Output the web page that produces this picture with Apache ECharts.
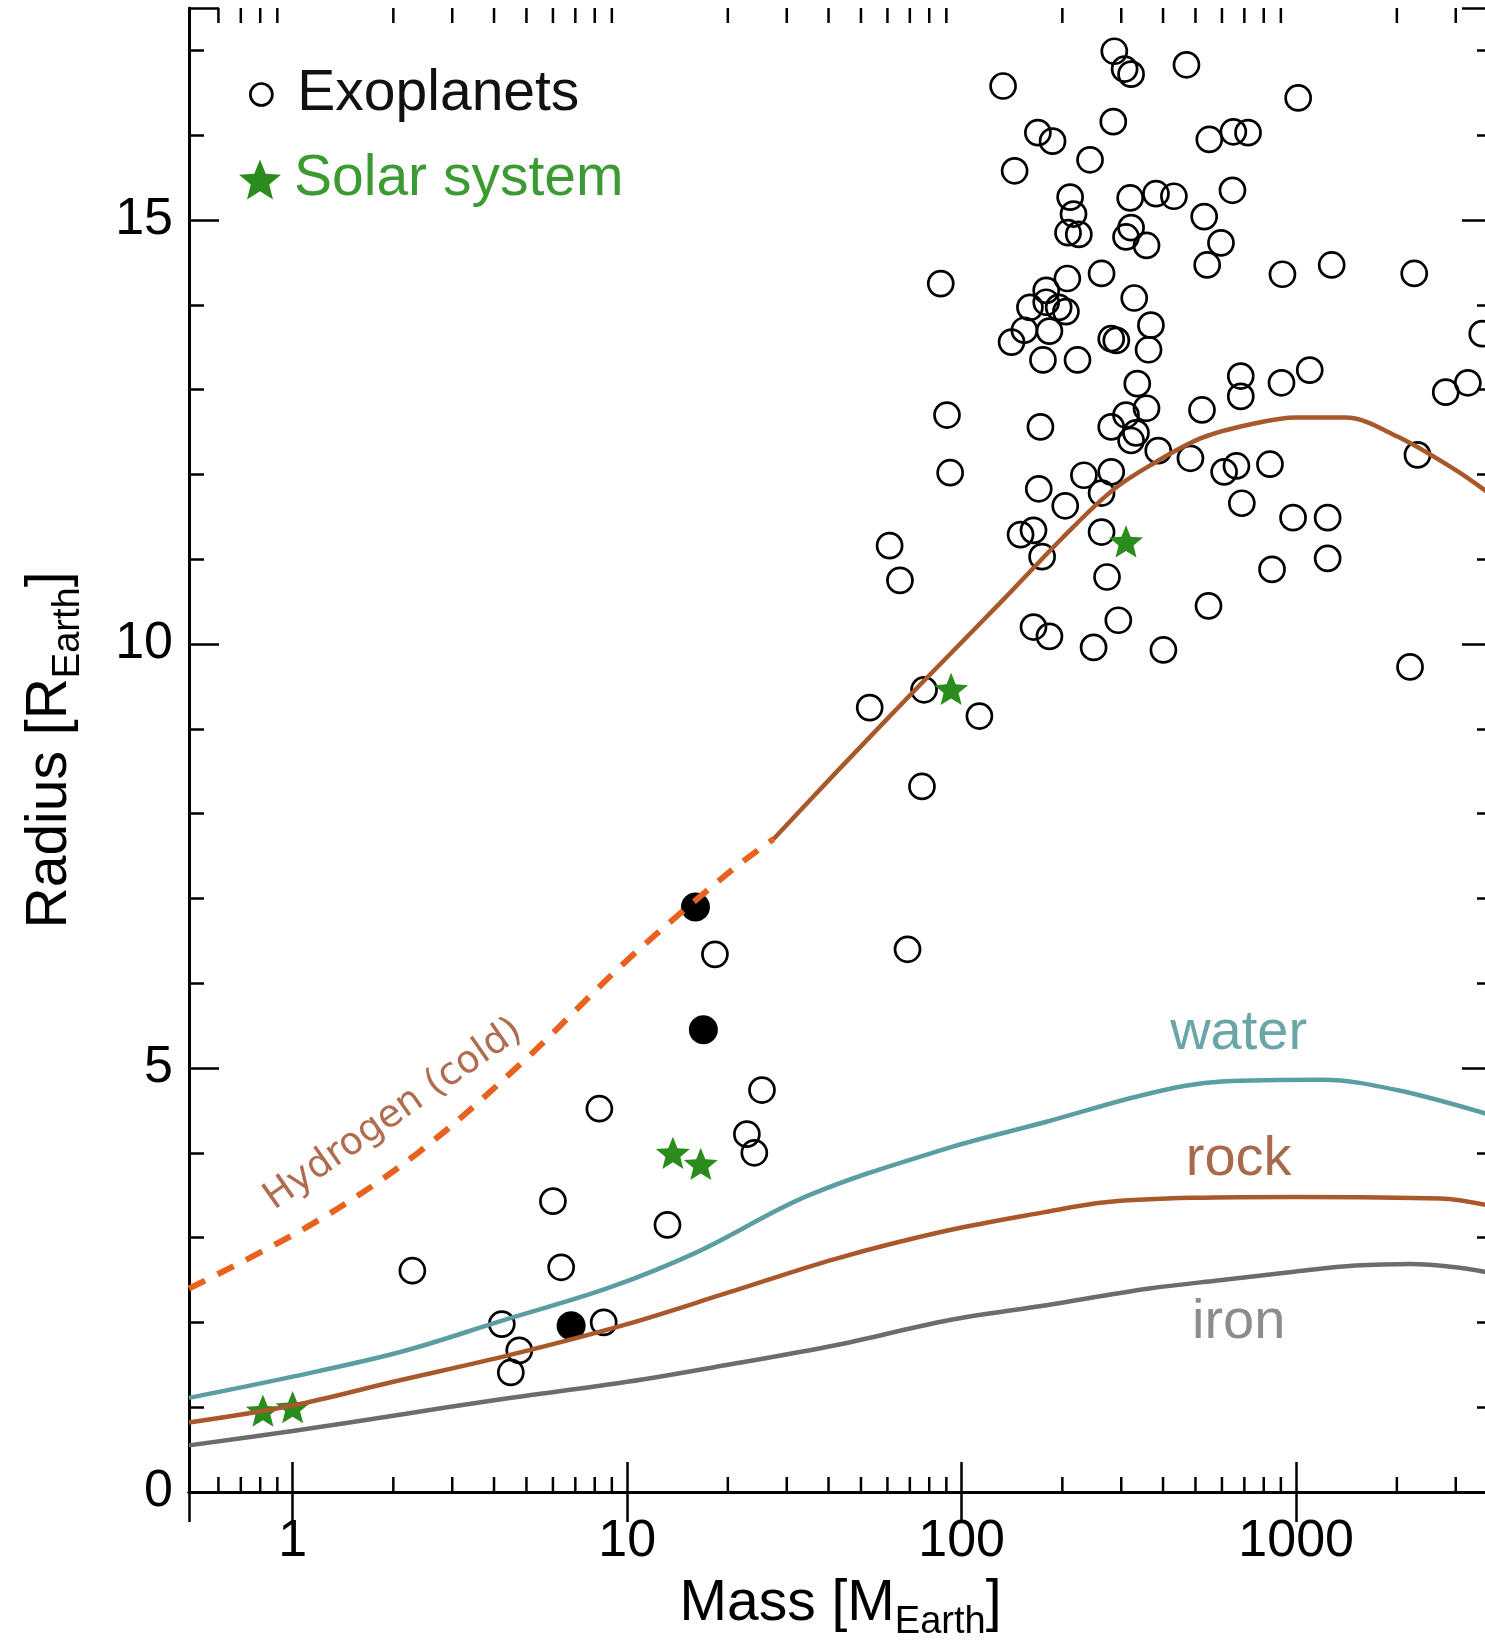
<!DOCTYPE html>
<html>
<head>
<meta charset="utf-8">
<title>Exoplanet mass-radius</title>
<script src="https://cdn.jsdelivr.net/npm/echarts@6/dist/echarts.min.js"></script>
<style>
    html, body { margin: 0; padding: 0; background: #fff; }
    #chart { width: 1485px; height: 1644px; }
</style>
</head>
<body>
<div id="chart"></div>
<script>
    // axis ticks
    const massTicks = [1, 10, 100, 1000];
    const massMinorTicks = [0.6, 0.7, 0.8, 0.9, 2, 3, 4, 5, 6, 7, 8, 9,
        20, 30, 40, 50, 60, 70, 80, 90, 200, 300, 400, 500, 600, 700, 800, 900, 2000, 3000];
    const radiusTicks = [0, 5, 10, 15];

    // [mass (M_Earth), radius (R_Earth)]
    const exoplanets = [
        [286, 16.99], [307, 16.78], [321, 16.72], [470, 16.83], [133, 16.58], [1014, 16.44],
        [284, 16.16], [169, 16.03], [187, 15.93], [242, 15.71], [144, 15.58], [550, 15.95],
        [649, 16.04], [718, 16.03], [645, 15.35], [211, 15.27], [216, 15.07], [208, 14.85],
        [224, 14.83], [319, 15.26], [381, 15.31], [431, 15.28], [531, 15.04], [321, 14.91],
        [310, 14.80], [357, 14.70], [596, 14.73], [542, 14.47], [1277, 14.47], [2254, 14.37],
        [910, 14.36], [86.6, 14.25], [262, 14.37], [207, 14.31], [179, 14.17], [328, 14.08],
        [179, 14.03], [195, 13.97], [160, 13.97], [154, 13.70], [205, 13.92], [280, 13.60],
        [290, 13.58], [183, 13.69], [368, 13.76], [362, 13.47], [141, 13.56], [175, 13.35],
        [222, 13.35], [3600, 13.66], [335, 13.07], [683, 13.16], [904, 13.08], [1098, 13.23],
        [683, 12.92], [2800, 12.97], [3260, 13.08], [90.4, 12.70], [280, 12.56], [310, 12.70],
        [357, 12.78], [523, 12.76], [172, 12.56], [321, 12.40], [332, 12.49], [387, 12.28],
        [483, 12.19], [609, 12.03], [663, 12.10], [835, 12.12], [2305, 12.23], [92.4, 12.02],
        [232, 11.99], [280, 12.03], [262, 11.78], [170, 11.83], [204, 11.63], [688, 11.66],
        [150, 11.29], [164, 11.34], [174, 11.03], [262, 11.32], [979, 11.49], [1242, 11.49],
        [60.9, 11.16], [1242, 11.01], [65.4, 10.75], [272, 10.79], [847, 10.88], [164, 10.20],
        [183, 10.09], [248, 9.96], [294, 10.28], [547, 10.45], [401, 9.93], [2190, 9.73],
        [53.1, 9.25], [77.2, 9.46], [113, 9.15], [76.1, 8.32], [68.9, 6.40], [18.3, 6.34],
        [25.3, 4.74], [8.26, 4.52], [22.8, 4.22], [24.0, 4.00], [6.0, 3.43], [13.2, 3.15],
        [2.28, 2.61], [6.35, 2.65], [4.22, 1.98], [4.76, 1.67], [4.49, 1.41], [8.51, 2.00]
    ];
    const exoplanetsFilled = [[16, 6.9], [16.9, 5.45], [6.8, 1.96]];
    // Venus, Earth, Uranus, Neptune, Saturn, Jupiter
    const solarSystem = [[0.815, 0.96], [1, 1.0], [13.7, 4.0], [16.6, 3.87], [93, 9.47], [310, 11.21]];

    // model curves
    const ironCurve = [[0.49, 0.55], [1, 0.72], [2, 0.9], [4.3, 1.1], [10, 1.3], [20, 1.5], [42, 1.73],
        [90, 2.02], [177, 2.2], [364, 2.4], [600, 2.5], [1000, 2.6], [1500, 2.67], [2200, 2.69], [3000, 2.65], [3850, 2.58]];
    const rockCurve = [[0.49, 0.82], [1, 1.02], [2, 1.3], [4.5, 1.62], [10, 1.98], [20, 2.35], [42, 2.75],
        [90, 3.08], [177, 3.3], [273, 3.42], [500, 3.47], [1000, 3.48], [2700, 3.46], [3850, 3.37]];
    const waterCurve = [[0.49, 1.11], [1, 1.36], [2.14, 1.66], [4.3, 2.03], [8.7, 2.4], [16, 2.82], [35, 3.5],
        [90, 4.05], [177, 4.36], [364, 4.7], [600, 4.84], [1200, 4.86], [2000, 4.74], [3850, 4.44]];
    const hydrogenColdCurve = [[0.49, 2.4], [1.155, 3.17], [2.37, 4.0], [4.87, 5.07], [10, 6.27], [20.5, 7.33], [27.4, 7.7]];
    const hydrogenCurve = [[27.4, 7.7], [42, 8.48], [76, 9.54], [133, 10.52], [200, 11.25], [280, 11.8], [364, 12.1],
        [522, 12.43], [750, 12.6], [1000, 12.67], [1400, 12.67], [2000, 12.45], [3000, 12.05], [3850, 11.75]];

    const MASS_MIN = 0.49, MASS_MAX = 3850;
    const R_MIN = 0, R_MAX = 17.5;
    const FONT = '"Liberation Sans", Arial, Helvetica, sans-serif';
    const STAR = 'path://M50 0L62.93 32.2L97.55 34.55L70.92 56.8L79.39 90.45L50 72L20.61 90.45L29.08 56.8L2.45 34.55L37.07 32.2Z';
    const tickStyle = { color: '#000', width: 2.5 };

    // subscript: both tokens hang from the top, the small one is pushed down by its padding
    const nameRich = {
        a: { fontSize: 57, verticalAlign: 'top', color: '#000', fontFamily: FONT },
        b: { fontSize: 38, verticalAlign: 'top', padding: [28, 0, 0, 0], color: '#000', fontFamily: FONT }
    };

    function massAxis (pos) {
        return {
            type: 'log',
            position: pos,
            min: MASS_MIN,
            max: MASS_MAX,
            logBase: 10,
            axisLine: { show: true, lineStyle: { color: '#000', width: 3 } },
            axisTick: { show: true, inside: true, length: 30, lineStyle: tickStyle },
            minorTick: { show: false },
            splitLine: { show: false },
            axisLabel: {
                show: pos === 'bottom',
                showMinLabel: false,
                showMaxLabel: false,
                margin: 24,
                fontSize: 52,
                color: '#000',
                fontFamily: FONT,
                formatter: v => massTicks.indexOf(Math.round(v)) >= 0 ? String(Math.round(v)) : ''
            }
        }
    }

    function radiusAxis (pos) {
        return {
            type: 'value',
            position: pos,
            min: R_MIN,
            max: R_MAX,
            interval: 5,
            axisLine: { show: true, onZero: false, lineStyle: { color: '#000', width: 3 } },
            axisTick: { show: true, inside: true, length: 30, lineStyle: tickStyle },
            minorTick: { show: true, splitNumber: 5, length: 15, lineStyle: tickStyle },
            splitLine: { show: false },
            axisLabel: {
                show: pos === 'left',
                showMaxLabel: false,
                margin: 16,
                fontSize: 52,
                color: '#000',
                fontFamily: FONT,
                formatter: v => radiusTicks.indexOf(v) >= 0 ? String(v) : ''
            }
        }
    }

    const xBottom = massAxis('bottom');
    xBottom.name = '{a|Mass [M}{b|Earth}{a|]}';
    xBottom.nameLocation = 'middle';
    xBottom.nameGap = 84;
    xBottom.nameTextStyle = { rich: nameRich };

    const yLeft = radiusAxis('left');
    yLeft.name = '{a|Radius [R}{b|Earth}{a|]}';
    yLeft.nameLocation = 'middle';
    yLeft.nameGap = 101;
    yLeft.nameTextStyle = { rich: nameRich };

    function curveLabel (text, coord, color) {
        return {
            symbol: 'circle',
            symbolSize: 0,
            silent: true,
            data: [{
                coord: coord,
                label: { show: true, position: 'inside', formatter: text, color: color, fontSize: 56, fontFamily: FONT }
            }]
        }
    }

    function curve (name, data, color, width, extra) {
        return Object.assign({
            name: name,
            type: 'line',
            data: data,
            showSymbol: false,
            smooth: 0.35,
            lineStyle: { color: color, width: width }
        }, extra || {})
    }

    const option = {
        animation: false,
        backgroundColor: '#fff',
        grid: { left: 189, right: -7, top: 8, bottom: 152, containLabel: false, outerBoundsMode: 'none' },
        xAxis: [xBottom, massAxis('top')],
        yAxis: [yLeft, radiusAxis('right')],
        legend: [
            {
                data: ['Exoplanets'],
                left: 249, top: 66, padding: 0,
                itemWidth: 22, itemHeight: 22,
                selectedMode: false,
                itemStyle: { borderWidth: 2.7 },
                textStyle: { color: '#111', fontSize: 57, fontFamily: FONT, padding: [0, 0, 0, 20] }
            },
            {
                data: ['Solar system'],
                left: 239, top: 151, padding: 0,
                itemWidth: 42, itemHeight: 40,
                selectedMode: false,
                textStyle: { color: '#3c9a33', fontSize: 57, fontFamily: FONT, padding: [0, 0, 0, 8] }
            }
        ],
        series: [
            {
                name: 'minor ticks',
                type: 'custom',
                silent: true,
                clip: false,
                data: massMinorTicks.map(v => [v, R_MIN]),
                renderItem: function (params, api) {
                    const v = api.value(0);
                    const b = api.coord([v, R_MIN]);
                    const t = api.coord([v, R_MAX]);
                    const st = { stroke: '#000', lineWidth: 2.5 };
                    return {
                        type: 'group',
                        children: [
                            { type: 'line', shape: { x1: b[0], y1: b[1], x2: b[0], y2: b[1] - 15 }, style: st },
                            { type: 'line', shape: { x1: t[0], y1: t[1], x2: t[0], y2: t[1] + 15 }, style: st }
                        ]
                    }
                }
            },
            curve('iron', ironCurve, '#6c6c6c', 4.5, { markPoint: curveLabel('iron', [673, 2.0], '#8c8c8c') }),
            curve('rock', rockCurve, '#a9582b', 4.5, { markPoint: curveLabel('rock', [673, 3.92], '#a86a4c') }),
            curve('water', waterCurve, '#5b9ea1', 4.5, { markPoint: curveLabel('water', [673, 5.41], '#6aa6a8') }),
            curve('Hydrogen (cold)', hydrogenColdCurve, '#e8621e', 6, {
                lineStyle: { color: '#e8621e', width: 6, type: [18, 14] },
                markPoint: {
                    symbol: 'circle',
                    symbolSize: 0,
                    silent: true,
                    data: [{
                        coord: [2.0, 4.45],
                        label: {
                            show: true, position: 'inside', formatter: 'Hydrogen (cold)', rotate: 35,
                            color: '#b06c4e', fontSize: 38, fontFamily: '"DejaVu Sans", sans-serif'
                        }
                    }]
                }
            }),
            curve('Hydrogen', hydrogenCurve, '#a9582b', 4.5),
            {
                name: 'Exoplanets',
                type: 'scatter',
                data: exoplanets,
                symbol: 'circle',
                symbolSize: 25,
                itemStyle: { color: 'rgba(0,0,0,0)', borderColor: '#000', borderWidth: 2.7, opacity: 1 }
            },
            {
                name: 'Exoplanets filled',
                type: 'scatter',
                data: exoplanetsFilled,
                symbol: 'circle',
                symbolSize: 29,
                itemStyle: { color: '#000', opacity: 1 }
            },
            {
                name: 'Solar system',
                type: 'scatter',
                data: solarSystem,
                symbol: STAR,
                symbolKeepAspect: true,
                symbolSize: 34,
                itemStyle: { color: '#2b8c1e', opacity: 1 }
            }
        ]
    };

    const chart = echarts.init(document.getElementById('chart'));
    chart.setOption(option);
</script>
</body>
</html>
